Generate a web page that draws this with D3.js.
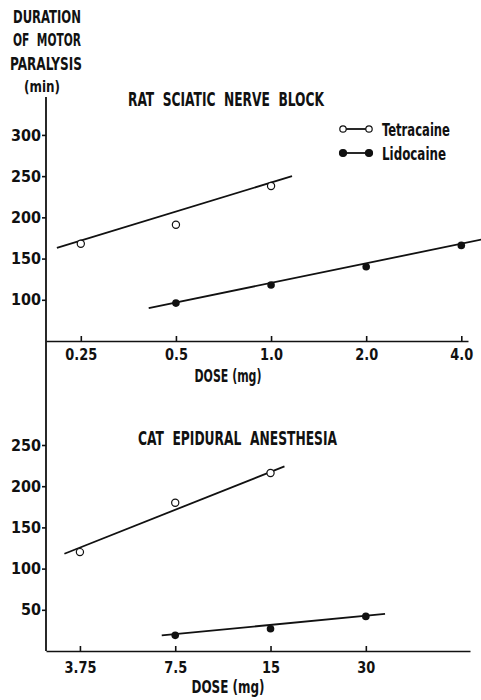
<!DOCTYPE html>
<html>
<head>
<meta charset="utf-8">
<script src="https://cdn.jsdelivr.net/npm/d3@7"></script>
<style>
  body { margin: 0; background: #fff; }
  text { font-family: "Liberation Sans Narrow", "DejaVu Sans Condensed", sans-serif; font-weight: bold; fill: #111; white-space: pre; }
  .axis path, .axis line { stroke: #111; stroke-width: 1.6; }
  .axis text { font-size: 16px; }
</style>
</head>
<body>
<div class="chart"></div>
<script>
// Top panel: rat sciatic nerve block
var ratDoses = [0.25, 0.5, 1.0, 2.0, 4.0];
var ratTickLabels = ["0.25", "0.5", "1.0", "2.0", "4.0"];
var ratTetraDose = [0.25, 0.5, 1.0];
var ratTetraValue = [168, 191, 238];
var ratLidoDose = [0.5, 1.0, 2.0, 4.0];
var ratLidoValue = [96, 118, 140, 166];
// fitted lines, [dose, minutes] end points
var ratTetraFit = [[0.21, 163], [1.165, 250]];
var ratLidoFit = [[0.41, 90], [4.63, 173]];
var ratYTicks = [100, 150, 200, 250, 300];

// Bottom panel: cat epidural anesthesia
var catDoses = [3.75, 7.5, 15, 30];
var catTickLabels = ["3.75", "7.5", "15", "30"];
var catTetraDose = [3.75, 7.5, 15];
var catTetraValue = [120, 180, 216];
var catLidoDose = [7.5, 15, 30];
var catLidoValue = [19, 27, 42];
var catTetraFit = [[3.35, 118], [16.6, 224]];
var catLidoFit = [[6.8, 19], [34.5, 45]];
var catYTicks = [50, 100, 150, 200, 250];

var svgWidth = 481;
var svgHeight = 700;

var svg = d3.select(".chart")
    .append("svg")
    .attr("width", svgWidth)
    .attr("height", svgHeight);

// scales
var xRat = d3.scaleLog().base(2).domain([0.194, 4.2]).range([46, 468]);
var yRat = d3.scaleLinear().domain([50, 346]).range([341, 97]);
var xCat = d3.scaleLog().base(2).domain([2.93, 64]).range([46, 470]);
var yCat = d3.scaleLinear().domain([0, 250]).range([651, 445]);

function label(x, y, str, size, len, anchor) {
  var t = svg.append("text")
    .attr("x", x)
    .attr("y", y)
    .attr("font-size", size)
    .attr("text-anchor", anchor || "start")
    .text(str);
  if (len) t.attr("textLength", len).attr("lengthAdjust", "spacingAndGlyphs");
  return t;
}

function panel(xScale, yScale, ticks, tickLabels, yTicks, tetraD, tetraV, lidoD, lidoV, tetraFit, lidoFit, labelPad) {
  var baseY = yScale.range()[0];

  var xAxis = svg.append("g")
    .attr("class", "axis")
    .attr("transform", `translate(0, ${baseY})`)
    .call(d3.axisBottom(xScale)
      .tickValues(ticks)
      .tickFormat((d, i) => tickLabels[i])
      .tickSizeInner(-5)
      .tickSizeOuter(0)
      .tickPadding(labelPad));
  xAxis.selectAll("text").attr("transform", "scale(0.9,1)")
    .attr("x", d => 0);

  var yAxis = svg.append("g")
    .attr("class", "axis")
    .attr("transform", `translate(${xScale.range()[0]}, 0)`)
    .call(d3.axisLeft(yScale)
      .tickValues(yTicks)
      .tickSize(4)
      .tickPadding(1));
  yAxis.select(".domain").remove();

  var line = d3.line()
    .x(d => xScale(d[0]))
    .y(d => yScale(d[1]));

  svg.append("path")
    .datum(tetraFit)
    .attr("d", line)
    .attr("fill", "none")
    .attr("stroke", "#111")
    .attr("stroke-width", 1.8);

  svg.append("path")
    .datum(lidoFit)
    .attr("d", line)
    .attr("fill", "none")
    .attr("stroke", "#111")
    .attr("stroke-width", 1.8);

  svg.append("g").selectAll("circle")
    .data(tetraD)
    .enter()
    .append("circle")
    .attr("cx", d => xScale(d))
    .attr("cy", (d, i) => yScale(tetraV[i]))
    .attr("r", 3.6)
    .attr("fill", "#fff")
    .attr("stroke", "#111")
    .attr("stroke-width", 1.2);

  svg.append("g").selectAll("circle")
    .data(lidoD)
    .enter()
    .append("circle")
    .attr("cx", d => xScale(d))
    .attr("cy", (d, i) => yScale(lidoV[i]))
    .attr("r", 3.8)
    .attr("fill", "#111");
}

panel(xRat, yRat, ratDoses, ratTickLabels, ratYTicks, ratTetraDose, ratTetraValue,
  ratLidoDose, ratLidoValue, ratTetraFit, ratLidoFit, 8);
panel(xCat, yCat, catDoses, catTickLabels, catYTicks, catTetraDose, catTetraValue,
  catLidoDose, catLidoValue, catTetraFit, catLidoFit, 11);

// one continuous y axis through both panels
svg.append("line")
  .attr("x1", xRat.range()[0])
  .attr("x2", xRat.range()[0])
  .attr("y1", yRat.range()[1])
  .attr("y2", yCat.range()[0])
  .attr("stroke", "#111")
  .attr("stroke-width", 1.8);

// y axis title
label(13, 23, "DURATION", 18, 68);
label(13, 46, "OF  MOTOR", 18, 68);
label(10, 70, "PARALYSIS", 18, 72);
label(42, 92, "(min)", 15, 36, "middle");

// panel titles
label(128, 106, "RAT  SCIATIC  NERVE  BLOCK", 19, 196);
label(138, 445, "CAT  EPIDURAL  ANESTHESIA", 19, 199);

// x axis titles
label(228, 382, "DOSE (mg)", 17, 67, "middle");
label(228, 693, "DOSE (mg)", 17, 73, "middle");

// legend
var legendNames = ["Tetracaine", "Lidocaine"];
var legendY = [129, 153];
legendNames.forEach(function(name, i) {
  var g = svg.append("g");
  g.append("line")
    .attr("x1", 343).attr("x2", 369)
    .attr("y1", legendY[i]).attr("y2", legendY[i])
    .attr("stroke", "#111").attr("stroke-width", 1.8);
  [343, 369].forEach(function(cx) {
    g.append("circle")
      .attr("cx", cx).attr("cy", legendY[i])
      .attr("r", i === 0 ? 3.2 : 3.5)
      .attr("fill", i === 0 ? "#fff" : "#111")
      .attr("stroke", "#111")
      .attr("stroke-width", 1.2);
  });
  label(382, legendY[i] + 7, name, 17, i === 0 ? 68 : 64);
});
</script>
</body>
</html>
